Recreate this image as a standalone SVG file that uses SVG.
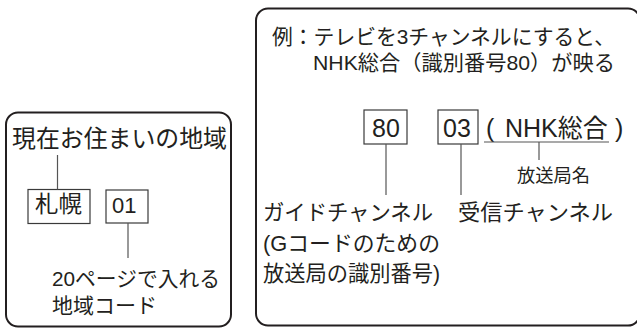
<svg xmlns="http://www.w3.org/2000/svg" width="637" height="329" viewBox="0 0 637 329">
<style>
.frame{fill:none;stroke:#231f20;stroke-width:2}
.box{fill:#fff;stroke:#3a3a3a;stroke-width:1.2}
.conn{stroke:#555;stroke-width:1.2;fill:none}
.jp{font-family:"Noto Sans CJK JP","Noto Sans",sans-serif;fill:#231f20}
.jl{font-family:"Liberation Sans","Noto Sans CJK JP",sans-serif;fill:#231f20}
.num{font-family:"Liberation Sans",Arial,sans-serif;fill:#231f20}
</style>
<rect width="637" height="329" fill="#fff"/>
<g id="left-panel">
<rect class="frame" x="6" y="112.5" width="225" height="214" rx="12"/>
<text class="jp" x="12" y="146.5" font-size="23.5" textLength="215" lengthAdjust="spacingAndGlyphs">現在お住まいの地域</text>
</g>
<g id="node-sapporo">
<rect class="box" x="28" y="189.5" width="62" height="34"/>
<text class="jp" x="35" y="211.5" font-size="23" textLength="47" lengthAdjust="spacingAndGlyphs">札幌</text>
</g>
<g id="node-01">
<rect class="box" x="106" y="190" width="42" height="33"/>
<text class="num" x="112" y="213" font-size="22">01</text>
</g>
<g id="label-area-code">
<text class="jl" font-size="21"><tspan x="52" y="286" textLength="168" lengthAdjust="spacingAndGlyphs">20ページで入れる</tspan><tspan x="52" y="313" textLength="105" lengthAdjust="spacingAndGlyphs">地域コード</tspan></text>
</g>
<g id="right-panel">
<rect class="frame" x="256" y="8.5" width="384" height="317" rx="12"/>
<text class="jl" font-size="21"><tspan x="272" y="44" textLength="343" lengthAdjust="spacingAndGlyphs">例：テレビを3チャンネルにすると、</tspan><tspan x="313" y="69.5" textLength="302" lengthAdjust="spacingAndGlyphs">NHK総合（識別番号80）が映る</tspan></text>
</g>
<g id="node-80">
<rect class="box" x="364" y="110" width="43" height="34"/>
<text class="num" x="372" y="137" font-size="25">80</text>
</g>
<g id="node-03">
<rect class="box" x="438" y="110" width="40" height="34"/>
<text class="num" x="443" y="137" font-size="25">03</text>
</g>
<g id="node-nhk">
<text class="num" x="486" y="137" font-size="25">(</text>
<text class="num" x="505" y="137" font-size="25">NHK<tspan class="jp" font-size="25">総合</tspan></text>
<text class="num" x="615" y="137" font-size="25">)</text>
</g>
<g id="label-station-name">
<text class="jp" x="517" y="182" font-size="18" textLength="73" lengthAdjust="spacingAndGlyphs">放送局名</text>
</g>
<g id="label-guide">
<text class="jl" font-size="21.5"><tspan x="263" y="220" textLength="170" lengthAdjust="spacingAndGlyphs">ガイドチャンネル</tspan><tspan x="263" y="251" textLength="177" lengthAdjust="spacingAndGlyphs">(Gコードのための</tspan><tspan x="263" y="281" textLength="177" lengthAdjust="spacingAndGlyphs">放送局の識別番号)</tspan></text>
</g>
<g id="label-receive">
<text class="jp" x="458" y="220" font-size="21.5" textLength="155" lengthAdjust="spacingAndGlyphs">受信チャンネル</text>
</g>
<g id="connectors">
<line class="conn" x1="57.5" y1="155" x2="57.5" y2="189.5"/>
<line class="conn" x1="128" y1="223" x2="128" y2="258"/>
<line class="conn" x1="386" y1="144" x2="386" y2="195"/>
<line class="conn" x1="461" y1="144" x2="461" y2="195"/>
<line class="conn" x1="484" y1="142" x2="609" y2="142"/>
<line class="conn" x1="539" y1="142" x2="539" y2="160"/>
</g>
</svg>
